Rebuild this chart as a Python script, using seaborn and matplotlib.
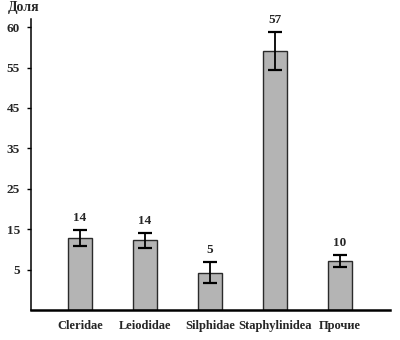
import matplotlib
matplotlib.use("Agg")
import matplotlib.pyplot as plt
import seaborn as sns
import pandas as pd

categories = ["Cleridae", "Leiodidae", "Silphidae", "Staphylinidea", "Прочие"]
heights = [17.8, 17.2, 9.2, 64.0, 12.1]
errors = [1.9, 1.75, 2.6, 4.7, 1.5]
bar_labels = ["14", "14", "5", "57", "10"]
ytick_pos = [10, 20, 30, 40, 50, 60, 70]
ytick_labels = ["5", "15", "25", "35", "45", "55", "60"]
y_title = "Доля"

sns.set_theme(style="white")
plt.rcParams["font.family"] = ["Liberation Serif", "DejaVu Serif"]

df = pd.DataFrame({"cat": categories, "val": heights})

fig = plt.figure(figsize=(4.0, 3.4), dpi=100)
ax = fig.add_axes([31 / 400, 30 / 340, 359 / 400, 291 / 340])

sns.barplot(data=df, x="cat", y="val", ax=ax, color="#b4b4b4", saturation=1,
            width=0.38, edgecolor="#2a2a2a", linewidth=1.0, errorbar=None)

ax.errorbar(range(len(categories)), heights, yerr=errors, fmt="none",
            ecolor="black", elinewidth=1.3, capsize=5, capthick=1.6)

for i, (h, e, t) in enumerate(zip(heights, errors, bar_labels)):
    ax.annotate(t, (i, h + e), xytext=(0, 9), textcoords="offset points",
                ha="center", va="center", fontsize=9.5, fontweight="bold")

ax.set_xlim(-0.754, 4.77)
ax.set_ylim(0, 72)
ax.set_yticks(ytick_pos)
ax.set_yticklabels(ytick_labels, fontsize=9.5, fontweight="bold")
ax.set_xticks(range(len(categories)))
ax.set_xticklabels(categories, fontsize=9, fontweight="bold")
ax.set_xlabel("")
ax.set_ylabel("")
ax.tick_params(axis="y", which="both", left=True, length=3, width=1, pad=5, color="black")
ax.tick_params(axis="x", bottom=False, pad=1)

for s in ["top", "right"]:
    ax.spines[s].set_visible(False)
ax.spines["left"].set_color("black")
ax.spines["left"].set_linewidth(1.1)
ax.spines["bottom"].set_color("black")
ax.spines["bottom"].set_linewidth(1.8)

fig.text(8 / 400, 1 - 7 / 340, y_title, ha="left", va="center",
         fontsize=10, fontweight="bold")

fig.savefig("out.png", dpi=100, facecolor="white")
